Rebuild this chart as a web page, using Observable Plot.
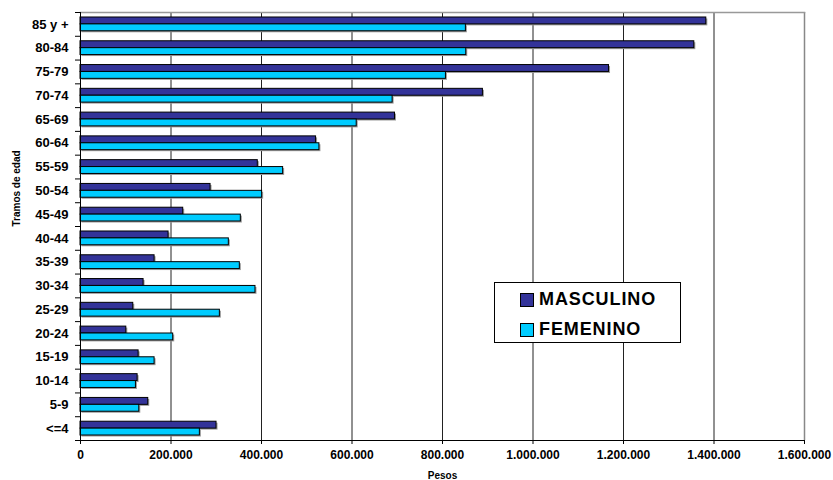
<!DOCTYPE html>
<html><head><meta charset="utf-8">
<script src="https://cdn.jsdelivr.net/npm/d3@7"></script>
<script src="https://cdn.jsdelivr.net/npm/@observablehq/plot@0.6"></script>
<style>
body{margin:0;background:#fff;font-family:"Liberation Sans",Arial,sans-serif}
#wrap{position:relative;width:833px;height:480px;overflow:hidden}
.legend{position:absolute;left:494px;top:282px;width:187px;height:61px;border:1px solid #000;background:#fff;box-sizing:border-box}
.item{position:absolute;left:25px;display:flex;align-items:center;font-weight:bold;font-size:18px;letter-spacing:0.9px;color:#000}
.sw{width:12px;height:12px;border:1px solid #000;margin-right:5px}
</style></head>
<body><div id="wrap"></div>
<script>
const categories = ["85 y +","80-84","75-79","70-74","65-69","60-64","55-59","50-54","45-49","40-44","35-39","30-34","25-29","20-24","15-19","10-14","5-9","<=4"];
const masculino = [1383000,1356500,1168000,889300,695000,520600,391800,287400,227000,194600,163700,139400,116600,101200,128400,126200,149700,300600];
const femenino  = [851700,852500,807600,689800,610400,528000,447800,401400,354300,327800,352100,386700,308000,204900,163700,122500,129900,263800];
const xTicks = [0,200000,400000,600000,800000,1000000,1200000,1400000,1600000];
const xTickLabels = ["0","200.000","400.000","600.000","800.000","1.000.000","1.200.000","1.400.000","1.600.000"];
const seriesNames = ["MASCULINO","FEMENINO"];
const seriesColors = ["#333399","#00CCFF"];
const yLabel = "Tramos de edad";
const xLabel = "Pesos";

const W = 833, H = 480, mT = 12, mB = 40, mL = 80, mR = 29;
const step = (H - mT - mB) / categories.length;
const outer = step * 0.21;   // gap above/below each pair of bars
const half = step / 2;

const rows = categories.flatMap((c, i) => [
  {tramo: c, sexo: seriesNames[0], v: masculino[i]},
  {tramo: c, sexo: seriesNames[1], v: femenino[i]}
]);
const mRows = rows.filter(d => d.sexo === seriesNames[0]);
const fRows = rows.filter(d => d.sexo === seriesNames[1]);
const mInset = {insetTop: outer, insetBottom: half};
const fInset = {insetTop: half, insetBottom: outer};

const chart = Plot.plot({
  width: W, height: H,
  marginTop: mT, marginBottom: mB, marginLeft: mL, marginRight: mR,
  style: {fontFamily: "'Liberation Sans', Arial, sans-serif", background: "#fff", color: "#000"},
  x: {domain: [0, 1600000]},
  y: {domain: categories, padding: 0, round: false},
  marks: [
    Plot.ruleX(xTicks.slice(1, -1), {stroke: "#222", strokeWidth: 1}),
    Plot.ruleX([xTicks[xTicks.length - 1]], {stroke: "#888", strokeWidth: 1.5}),
    Plot.frame({anchor: "top", stroke: "#999", strokeWidth: 1.5}),
    // shadows
    Plot.barX(mRows, {x: "v", y: "tramo", ...mInset, fill: "#999", dx: 1.5, dy: 1.5}),
    Plot.barX(fRows, {x: "v", y: "tramo", ...fInset, fill: "#999", dx: 1.5, dy: 1.5}),
    Plot.barX(mRows, {x: "v", y: "tramo", ...mInset, fill: seriesColors[0], stroke: "#000", strokeWidth: 1}),
    Plot.barX(fRows, {x: "v", y: "tramo", ...fInset, fill: seriesColors[1], stroke: "#000", strokeWidth: 1}),
    Plot.ruleX([0], {stroke: "#000", strokeWidth: 1}),
    Plot.frame({anchor: "bottom", stroke: "#000", strokeWidth: 1}),
    Plot.axisY({tickSize: 0, tickPadding: 12, fontSize: 13, fontWeight: "bold", label: null}),
    Plot.axisY({tickSize: 5, tickFormat: () => "", dy: step / 2, label: null}),
    Plot.axisY({ticks: [categories[0]], tickSize: 5, tickFormat: () => "", dy: -step / 2, label: null}),
    Plot.axisX({ticks: xTicks, tickSize: 4, tickPadding: 6, fontSize: 12, fontWeight: "bold", label: null,
      tickFormat: d => xTickLabels[xTicks.indexOf(d)]}),
    Plot.text([yLabel], {frameAnchor: "left", rotate: -90, dx: -64, fontSize: 10, fontWeight: "bold", fill: "#000"}),
    Plot.text([xLabel], {frameAnchor: "bottom", dy: 38, fontSize: 10, fontWeight: "bold", fill: "#000"})
  ]
});
const wrap = document.getElementById("wrap");
wrap.appendChild(chart);

const leg = document.createElement("div");
leg.className = "legend";
seriesNames.forEach((n, i) => {
  const it = document.createElement("div");
  it.className = "item";
  it.style.top = (i === 0 ? 6 : 36) + "px";
  const sw = document.createElement("span");
  sw.className = "sw";
  sw.style.background = seriesColors[i];
  it.appendChild(sw);
  it.appendChild(document.createTextNode(n));
  leg.appendChild(it);
});
wrap.appendChild(leg);
</script>
</body></html>
